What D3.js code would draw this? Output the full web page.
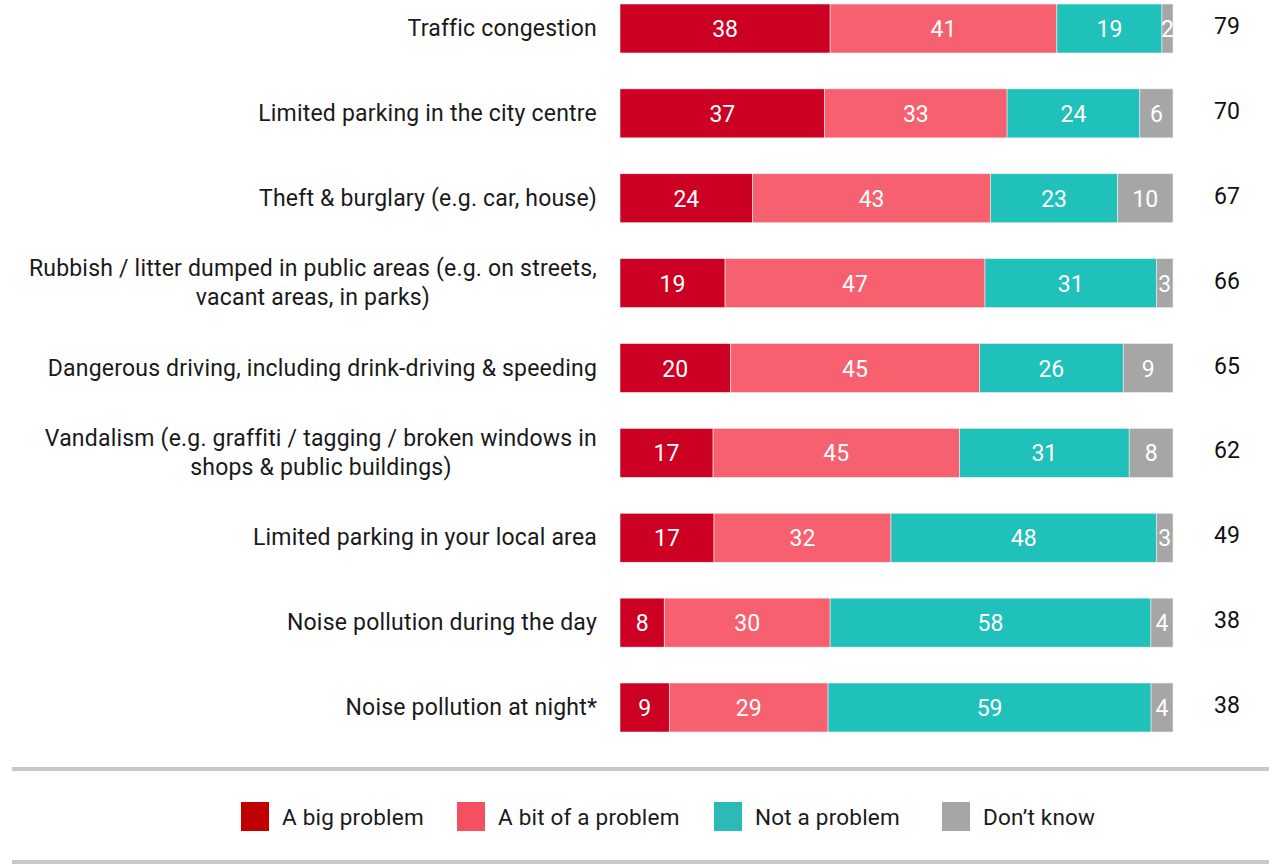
<!DOCTYPE html>
<html><head><meta charset="utf-8">
<script src="https://cdn.jsdelivr.net/npm/d3@7"></script>
<style>body{margin:0;background:#fff;} svg{display:block;} text{font-family:Roboto,"Noto Sans",sans-serif;}</style>
</head><body>
<svg id="c" width="1269" height="866"></svg>
<script>
const categories = [
  ["Traffic congestion"],
  ["Limited parking in the city centre"],
  ["Theft & burglary (e.g. car, house)"],
  ["Rubbish / litter dumped in public areas (e.g. on streets,", "vacant areas, in parks)"],
  ["Dangerous driving, including drink-driving & speeding"],
  ["Vandalism (e.g. graffiti / tagging / broken windows in", "shops & public buildings)"],
  ["Limited parking in your local area"],
  ["Noise pollution during the day"],
  ["Noise pollution at night*"]
];
const seriesNames = ["A big problem", "A bit of a problem", "Not a problem", "Don\u2019t know"];
const bigProblem = [38, 37, 24, 19, 20, 17, 17, 8, 9];
const bitProblem = [41, 33, 43, 47, 45, 45, 32, 30, 29];
const notProblem = [19, 24, 23, 31, 26, 31, 48, 58, 59];
const dontKnow = [2, 6, 10, 3, 9, 8, 3, 4, 4];
const totals = [79, 70, 67, 66, 65, 62, 49, 38, 38];
const barColors = ["#cc0022", "#f7606e", "#20c0bb", "#a6a6a6"];
const legendColors = ["#c00000", "#f55060", "#2bbab5", "#a6a6a6"];

const series = [bigProblem, bitProblem, notProblem, dontKnow];
const svg = d3.select("#c");
const x = d3.scaleLinear().domain([0, 100]).range([620, 1173]);
const y = d3.scaleBand().domain(d3.range(categories.length)).range([4, 732]).paddingInner(0.4227).paddingOuter(0);

categories.forEach((lab, i) => {
  const sum = d3.sum(series, s => s[i]);
  const xs = x.copy().domain([0, sum]);
  let start = 0;
  const g = svg.append("g");
  series.forEach((s, k) => {
    const v = s[i];
    g.append("rect").attr("x", xs(start)).attr("y", y(i)).attr("width", xs(start + v) - xs(start))
      .attr("height", y.bandwidth()).attr("fill", barColors[k]).attr("stroke", "#eeeeee").attr("stroke-width", 0.6);
    g.append("text").attr("x", xs(start + v / 2)).attr("y", y(i) + y.bandwidth() / 2 + 1)
      .attr("text-anchor", "middle").attr("dominant-baseline", "central")
      .attr("fill", "#fff").attr("font-size", 23).text(v);
    start += v;
  });
  const cy = y(i) + y.bandwidth() / 2;
  const n = lab.length;
  const t = svg.append("text").attr("font-size", 23).attr("letter-spacing", 0.2).attr("fill", "#1a1a1a");
  const spans = lab.map((line, j) => t.append("tspan").attr("y", cy + (j - (n - 1) / 2) * 29)
      .attr("dominant-baseline", "central").text(line));
  const widths = spans.map(sp => sp.node().getComputedTextLength());
  const maxW = d3.max(widths);
  t.attr("text-anchor", "middle");
  spans.forEach(sp => sp.attr("x", 597 - maxW / 2));
  svg.append("text").attr("x", 1227).attr("y", cy - 2).attr("text-anchor", "middle").attr("dominant-baseline", "central")
    .attr("font-size", 23).attr("fill", "#111").text(totals[i]);
});

svg.append("rect").attr("x", 12).attr("y", 767).attr("width", 1257).attr("height", 4).attr("fill", "#c8c8c8");
svg.append("rect").attr("x", 12).attr("y", 860).attr("width", 1257).attr("height", 4).attr("fill", "#c8c8c8");

const legX = [241, 457, 714, 942];
seriesNames.forEach((name, k) => {
  svg.append("rect").attr("x", legX[k]).attr("y", 802).attr("width", 28).attr("height", 29).attr("fill", legendColors[k]);
  svg.append("text").attr("x", legX[k] + 41).attr("y", 817).attr("dominant-baseline", "central")
    .attr("font-size", 22.5).attr("letter-spacing", 0.2).attr("fill", "#1a1a1a").text(name);
});
</script>
</body></html>
